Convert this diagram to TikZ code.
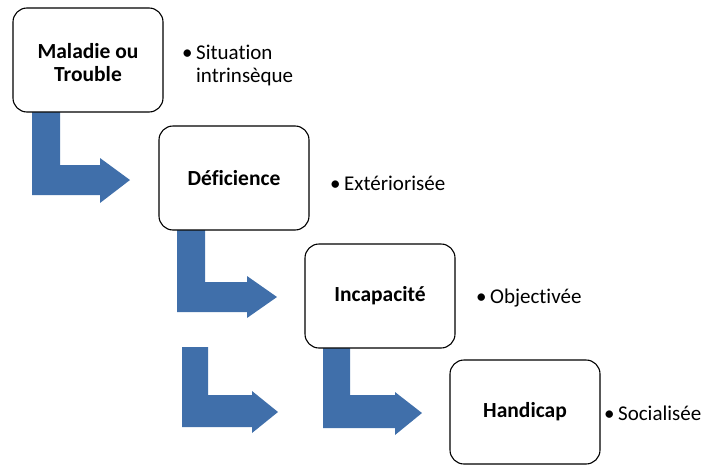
\documentclass[tikz,border=0pt]{standalone}
\usepackage{fontspec}
\setmainfont{Carlito}[Ligatures=CommonOff]
\definecolor{arrowblue}{RGB}{64,111,170}
\tikzset{
  box/.style={draw=black, line width=1.1pt, rounded corners=14pt, fill=white,
    minimum width=150pt, minimum height=104pt, inner sep=0pt, align=center,
    font=\fontsize{21.5}{23}\selectfont\bfseries},
  note/.style={anchor=west, align=left, inner sep=0pt, font=\fontsize{21}{23}\selectfont},
  barrow/.style={fill=arrowblue, draw=none}
}
\begin{document}
\begin{tikzpicture}[x=1pt,y=-1pt]
\useasboundingbox (0,0) rectangle (707,466);
% bent arrows
\path[barrow] (32,112) -- (60,112) -- (60,165) -- (100,165) -- (100,158) -- (130,180) -- (100,203) -- (100,195) -- (32,195) -- cycle;
\path[barrow] (177,230) -- (205,230) -- (205,282) -- (247,282) -- (247,276) -- (277,297) -- (247,318) -- (247,312) -- (177,312) -- cycle;
\path[barrow] (182,347) -- (208,347) -- (208,395) -- (252,395) -- (252,391) -- (278,412) -- (252,433) -- (252,427) -- (182,427) -- cycle;
\path[barrow] (323,348) -- (350,348) -- (350,395) -- (395,395) -- (395,392) -- (422,413) -- (395,435) -- (395,428) -- (323,428) -- cycle;
% boxes
\node[box] (b1) at (88,60) {};
\node[font=\fontsize{21.5}{23}\selectfont\bfseries, align=center, inner sep=0pt] (t1) at (88,63) {Maladie ou\\Trouble};
\node[box] (b2) at (234,178) {Déficience};
\node[box] (b3) at (380,296) {Incapacité};
\node[box] (b4) at (525,412) {Handicap};
% notes
\node[note] (n1) at (182,65) {•\,Situation\\\phantom{•\,}intrinsèque};
\node[note] (n2) at (330,183) {•\,Extériorisée};
\node[note] (n3) at (476,298) {•\,Objectivée};
\node[note] (n4) at (604,413) {•\,Socialisée};
\end{tikzpicture}
\end{document}
